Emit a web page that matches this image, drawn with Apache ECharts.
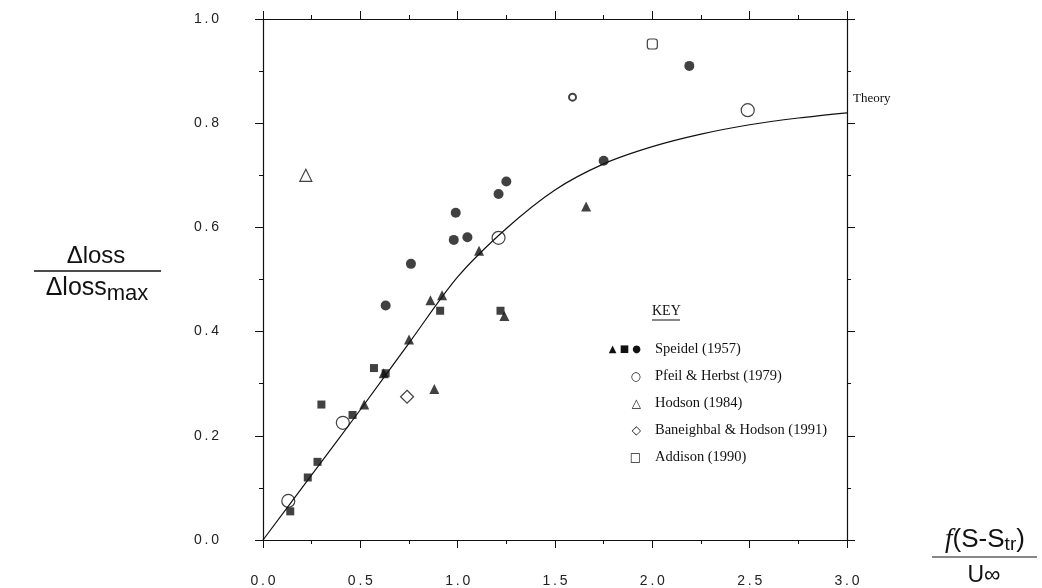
<!DOCTYPE html>
<html>
<head>
<meta charset="utf-8">
<script src="https://cdn.jsdelivr.net/npm/echarts@6/dist/echarts.min.js"></script>
<style>
  html, body { margin: 0; padding: 0; background: #fff; }
  #main { width: 1042px; height: 588px; }
</style>
</head>
<body>
<div id="main"></div>
<script>
// theory curve
var theoryX = [0, 0.25, 0.5, 0.75, 1.0, 1.25, 1.5, 1.75, 2.0, 2.25, 2.5, 2.75, 3.0];
var theoryY = [0, 0.125, 0.25, 0.378, 0.505, 0.598, 0.672, 0.722, 0.755, 0.779, 0.797, 0.81, 0.82];

// Speidel (1957): triangles, squares, circles
var speidelTri = [[0.52, 0.26], [0.62, 0.32], [0.75, 0.385], [0.86, 0.46], [0.88, 0.29], [0.92, 0.47], [1.11, 0.555], [1.24, 0.43], [1.66, 0.64]];
var speidelSq = [[0.14, 0.055], [0.23, 0.12], [0.28, 0.15], [0.30, 0.26], [0.46, 0.24], [0.57, 0.33], [0.63, 0.32], [0.91, 0.44], [1.22, 0.44]];
var speidelDot = [[0.63, 0.45], [0.76, 0.53], [0.98, 0.576], [0.99, 0.628], [1.05, 0.581], [1.21, 0.664], [1.25, 0.688], [1.75, 0.728], [2.19, 0.91]];
var smallRing = [[1.59, 0.85]];
var pfeil = [[0.13, 0.075], [0.41, 0.225], [1.21, 0.58], [2.49, 0.825]];
var hodson = [[0.22, 0.70]];
var baneighbal = [[0.74, 0.275]];
var addison = [[2.0, 0.952]];

var keyRows = ['Speidel (1957)', 'Pfeil & Herbst (1979)', 'Hodson (1984)', 'Baneighbal & Hodson (1991)', 'Addison (1990)'];
var keyIcons = ['\u25B2 \u25A0 \u25CF', '\u25CB', '\u25B3', '\u25C7', '\u25A1'];

var tickFont = { fontFamily: 'Liberation Sans', fontSize: 14, color: '#222' };
function fmt(v) { return v.toFixed(1).split('').join('\u2009'); }

var myChart = echarts.init(document.getElementById('main'));

var sans = '"Liberation Sans"';
var graphics = [];
// y-axis fraction
graphics.push({ type: 'text', x: 96, y: 256, style: { text: '\u0394loss', font: '24px ' + sans, fill: '#111', align: 'center', verticalAlign: 'middle' } });
graphics.push({ type: 'line', shape: { x1: 34, y1: 271, x2: 161, y2: 271 }, style: { stroke: '#111', lineWidth: 1.5 } });
graphics.push({ type: 'text', x: 97, y: 288, style: { text: '{a|\u0394loss}{b|max}', align: 'center', verticalAlign: 'middle', rich: { a: { font: '25px ' + sans, fill: '#111' }, b: { font: '22px ' + sans, fill: '#111', padding: [12, 0, 0, 0] } } } });
// x-axis fraction
graphics.push({ type: 'text', x: 985, y: 540, style: { text: '{i|f}{n|(S-S}{s|tr}{n|)}', align: 'center', verticalAlign: 'middle', rich: { i: { font: 'italic 27px "Liberation Serif"', fill: '#111' }, n: { font: '26px ' + sans, fill: '#111' }, s: { font: '19px ' + sans, fill: '#111', padding: [9, 0, 0, 0] } } } });
graphics.push({ type: 'line', shape: { x1: 932, y1: 557, x2: 1037, y2: 557 }, style: { stroke: '#111', lineWidth: 1.2 } });
graphics.push({ type: 'text', x: 984, y: 576, style: { text: 'U\u221E', font: '23px ' + sans, fill: '#111', align: 'center', verticalAlign: 'middle' } });
// key
graphics.push({ type: 'text', left: 652, top: 304, style: { text: 'KEY', font: '14px "Liberation Serif"', fill: '#111' } });
graphics.push({ type: 'line', shape: { x1: 652, y1: 320, x2: 680, y2: 320 }, style: { stroke: '#111', lineWidth: 1 } });
keyRows.forEach(function (name, i) {
  var y = 342 + i * 27;
  graphics.push({ type: 'text', left: 655, top: y, style: { text: name, font: '14.5px "Liberation Serif"', fill: '#111' } });
  graphics.push({ type: 'text', right: 1042 - 641, top: y + 2, style: { text: keyIcons[i], font: (i === 0 ? '10px' : '12px') + ' "DejaVu Sans"', fill: '#111', align: 'right' } });
});

function axisBase(pos, showLabel, major) {
  return {
    type: 'value', position: pos, min: 0, max: pos === 'left' || pos === 'right' ? 1 : 3,
    interval: major,
    axisLine: { show: true, onZero: false, lineStyle: { color: '#111', width: 1.2 } },
    axisTick: { show: true, inside: false, length: 8, lineStyle: { color: '#111', width: 1 } },
    minorTick: { show: true, splitNumber: 2, length: 4, lineStyle: { color: '#111', width: 1 } },
    splitLine: { show: false },
    axisLabel: showLabel ? Object.assign({ show: true, margin: pos === 'left' ? 44 : 34, formatter: fmt }, tickFont) : { show: false }
  };
}

var option = {
  backgroundColor: '#fff',
  animation: false,
  grid: { left: 263, right: 195, top: 19, bottom: 47 },
  xAxis: [axisBase('bottom', true, 0.5), axisBase('top', false, 0.5)],
  yAxis: [axisBase('left', true, 0.2), axisBase('right', false, 0.2)],
  graphic: graphics,
  series: [
    {
      name: 'Theory', type: 'line', smooth: 0.3, showSymbol: false,
      data: theoryX.map(function (x, i) { return [x, theoryY[i]]; }),
      lineStyle: { color: '#111', width: 1.2 },
      endLabel: { show: true, formatter: 'Theory', fontFamily: 'Liberation Serif', fontSize: 13, color: '#111', offset: [-2, -14] }
    },
    { name: 'Speidel tri', type: 'scatter', symbol: 'triangle', symbolSize: 10, data: speidelTri, itemStyle: { color: '#111' } },
    { name: 'Speidel sq', type: 'scatter', symbol: 'rect', symbolSize: 8, data: speidelSq, itemStyle: { color: '#111' } },
    { name: 'Speidel dot', type: 'scatter', symbol: 'circle', symbolSize: 10, data: speidelDot, itemStyle: { color: '#111' } },
    { name: 'ring', type: 'scatter', symbol: 'circle', symbolSize: 7, data: smallRing, itemStyle: { color: '#fff', borderColor: '#111', borderWidth: 2 } },
    { name: 'Pfeil & Herbst (1979)', type: 'scatter', symbol: 'circle', symbolSize: 13, data: pfeil, itemStyle: { color: '#fff', borderColor: '#111', borderWidth: 1.2 } },
    { name: 'Hodson (1984)', type: 'scatter', symbol: 'triangle', symbolSize: 12, data: hodson, itemStyle: { color: '#fff', borderColor: '#111', borderWidth: 1.2 } },
    { name: 'Baneighbal & Hodson (1991)', type: 'scatter', symbol: 'diamond', symbolSize: 13, data: baneighbal, itemStyle: { color: '#fff', borderColor: '#111', borderWidth: 1.2 } },
    { name: 'Addison (1990)', type: 'scatter', symbol: 'roundRect', symbolSize: 10, data: addison, itemStyle: { color: '#fff', borderColor: '#111', borderWidth: 1.2 } }
  ]
};
myChart.setOption(option);
</script>
</body>
</html>
